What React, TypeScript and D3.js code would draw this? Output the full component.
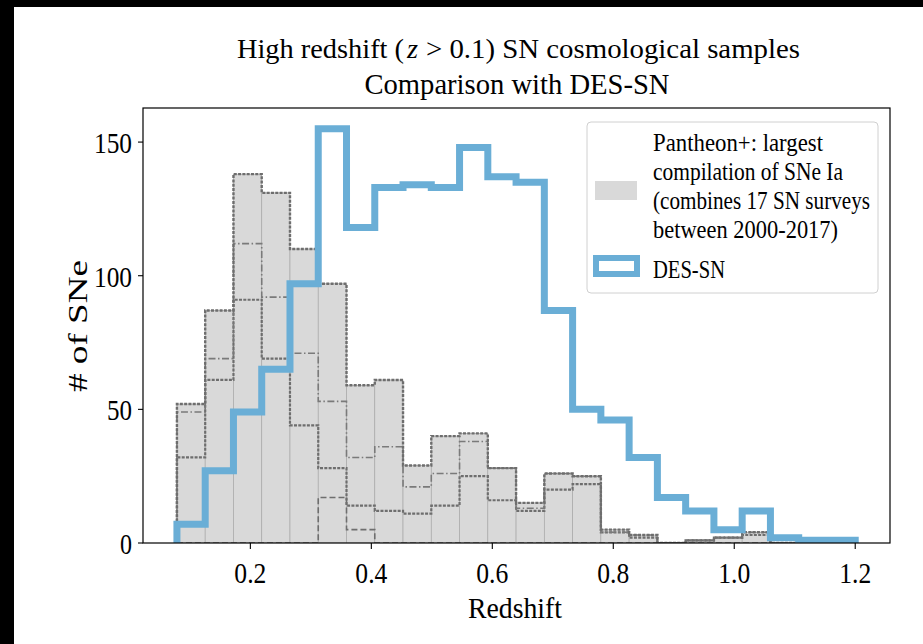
import React from "react";
import * as d3 from "d3";

// ---- data ----
const binStart = 0.0786;
const binEnd = 1.2;
const nBins = 24;

// DES-SN counts per bin
const desCounts = [7, 27, 49, 65, 97, 155, 118, 133, 134, 133, 148, 137, 135, 87, 50, 46, 32, 17, 12, 5, 12, 2, 1, 1];
// Pantheon+ total counts per bin
const pantheonTotal = [52, 87, 138, 131, 110, 97, 59, 61, 29, 40, 41, 28, 15, 26, 25, 5, 3, 0, 1, 2, 4, 0, 0, 0];
// Pantheon+ sub-sample (cumulative) levels drawn as step lines
const pantheonDashDot = [49, 69, 112, 92, 71, 53, 32, 36, 21, 26, 38, 28, 13, 26, 25, 4, 3, 0, 1, 2, 4, 0, 0, 0];
const pantheonDense = [32, 61, 91, 69, 44, 28, 14, 12, 11, 14, 25, 16, 12, 20, 22, 4, 2, 0, 1, 2, 3, 0, 0, 0];
const pantheonLoose = [0, 0, 0, 0, 0, 17, 5, 0, 0, 0, 0, 0, 0, 0, 0, 0, 0, 0, 0, 0, 0, 0, 0, 0];

const xTicks = [0.2, 0.4, 0.6, 0.8, 1.0, 1.2];
const yTicks = [0, 50, 100, 150];

const titleParts = ["High redshift (", "z", "> 0.1) SN cosmological samples"];
const titleLine2 = "Comparison with DES-SN";
const legendLines = ["Pantheon+: largest", "compilation of SNe Ia", "(combines 17 SN surveys", "between 2000-2017)"];
const legendWidths = [170, 190, 217, 185];
const legendDes = "DES-SN";

const FONT = "'Liberation Serif', 'DejaVu Serif', serif";

export default function App() {
  const W = 923, H = 644;
  const x = d3.scaleLinear().domain([0.0225, 1.2575]).range([143, 890]);
  const y = d3.scaleLinear().domain([0, 162.75]).range([543, 108]);
  const bw = (binEnd - binStart) / nBins;
  const edges = d3.range(nBins + 1).map((i) => binStart + i * bw);

  const line = d3.line<[number, number]>().x((d) => x(d[0])).y((d) => y(d[1]));
  const stepPts = (vals: number[]): [number, number][] => {
    const pts: [number, number][] = [[edges[0], 0]];
    vals.forEach((v, i) => {
      pts.push([edges[i], v]);
      pts.push([edges[i + 1], v]);
    });
    pts.push([edges[nBins], 0]);
    return pts;
  };

  const blue = "#6aaed6";
  const grayLine = "#6e6e6e";
  const tickW = (s: string) => s.replace(".", "").length * 12 + (s.includes(".") ? 8 : 0);

  return (
    <svg width={W} height={H} style={{ position: "absolute", left: 0, top: 0, background: "#fff" }} fontFamily={FONT}>
      <rect x={0} y={0} width={W} height={H} fill="#fff" />
      <rect x={0} y={0} width={W} height={7} fill="#000" />
      <rect x={0} y={0} width={14} height={H} fill="#000" />

      {/* title */}
      <text x={237} y={58} fontSize={28} textLength={167} lengthAdjust="spacingAndGlyphs">{titleParts[0]}</text>
      <text x={407} y={58} fontSize={28} fontStyle="italic" textLength={11} lengthAdjust="spacingAndGlyphs">{titleParts[1]}</text>
      <text x={426} y={58} fontSize={28} textLength={374} lengthAdjust="spacingAndGlyphs">{titleParts[2]}</text>
      <text x={517} y={94} textAnchor="middle" fontSize={29} textLength={305} lengthAdjust="spacingAndGlyphs">
        {titleLine2}
      </text>

      <defs>
        <clipPath id="plotclip">
          <rect x={143} y={108} width={747} height={435} />
        </clipPath>
      </defs>

      <g clipPath="url(#plotclip)">
        {pantheonTotal.map((v, i) => (
          <rect key={i} x={x(edges[i])} y={y(v)} width={x(edges[i + 1]) - x(edges[i])} height={y(0) - y(v)}
            fill="#d9d9d9" stroke="#a9a9a9" strokeWidth={0.7} />
        ))}
        <path d={line(stepPts(pantheonLoose)) || ""} fill="none" stroke={grayLine} strokeWidth={1.6} strokeDasharray="6,3" />
        <path d={line(stepPts(pantheonDense)) || ""} fill="none" stroke={grayLine} strokeWidth={2.2} strokeDasharray="3,1.3" />
        <path d={line(stepPts(pantheonDashDot)) || ""} fill="none" stroke="#7a7a7a" strokeWidth={1.6} strokeDasharray="7,2.5,1.5,2.5" />
        <path d={line(stepPts(pantheonTotal)) || ""} fill="none" stroke={grayLine} strokeWidth={2.4} strokeDasharray="3,1.3" />
        <path d={line(stepPts(desCounts)) || ""} fill="none" stroke={blue} strokeWidth={7} strokeLinejoin="miter" />
      </g>

      <rect x={143} y={108} width={747} height={435} fill="none" stroke="#000" strokeWidth={1.2} />

      {xTicks.map((t) => (
        <g key={t}>
          <line x1={x(t)} x2={x(t)} y1={543} y2={549} stroke="#000" strokeWidth={1.1} />
          <text x={x(t)} y={583} textAnchor="middle" fontSize={30} textLength={32} lengthAdjust="spacingAndGlyphs">{t.toFixed(1)}</text>
        </g>
      ))}
      {yTicks.map((t) => (
        <g key={t}>
          <line x1={138} x2={143} y1={y(t)} y2={y(t)} stroke="#000" strokeWidth={1.1} />
          <text x={132} y={y(t) + 11} textAnchor="end" fontSize={30} textLength={tickW(String(t)) + (String(t).length - 1)} lengthAdjust="spacingAndGlyphs">{t}</text>
        </g>
      ))}

      <text x={515} y={618} textAnchor="middle" fontSize={30} textLength={94} lengthAdjust="spacingAndGlyphs">Redshift</text>
      <text transform="translate(87,326) rotate(-90)" textAnchor="middle" fontSize={27} textLength={132} lengthAdjust="spacingAndGlyphs"># of SNe</text>

      <rect x={587} y={122} width={291} height={171} rx={4} fill="#fff" fillOpacity={0.8} stroke="#d0d0d0" strokeWidth={1} />
      <rect x={595} y={181} width={42} height={19} fill="#d9d9d9" />
      <rect x={596} y={258} width={41} height={16} fill="#fff" stroke={blue} strokeWidth={6} />
      {legendLines.map((s, i) => (
        <text key={i} x={653} y={151 + i * 29} fontSize={26} textLength={legendWidths[i]} lengthAdjust="spacingAndGlyphs">{s}</text>
      ))}
      <text x={653} y={278} fontSize={26} textLength={72} lengthAdjust="spacingAndGlyphs">{legendDes}</text>
    </svg>
  );
}
